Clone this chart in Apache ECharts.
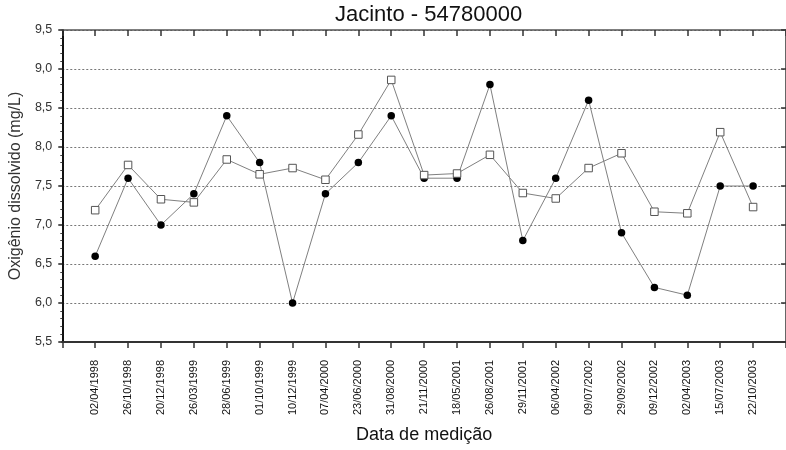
<!DOCTYPE html>
<html>
<head>
<meta charset="utf-8">
<script src="https://cdn.jsdelivr.net/npm/echarts@6/dist/echarts.min.js"></script>
<style>html,body{margin:0;padding:0;background:#fff;}#c{width:786px;height:450px;}</style>
</head>
<body>
<div id="c"></div>
<script>
const dates = ['02/04/1998','26/10/1998','20/12/1998','26/03/1999','28/06/1999','01/10/1999','10/12/1999','07/04/2000','23/06/2000','31/08/2000','21/11/2000','18/05/2001','26/08/2001','29/11/2001','06/04/2002','09/07/2002','29/09/2002','09/12/2002','02/04/2003','15/07/2003','22/10/2003'];
const filledValues = [6.6,7.6,7.0,7.4,8.4,7.8,6.0,7.4,7.8,8.4,7.6,7.6,8.8,6.8,7.6,8.6,6.9,6.2,6.1,7.5,7.5];
const openValues = [7.19,7.77,7.33,7.29,7.84,7.65,7.73,7.58,8.16,8.86,7.64,7.66,7.90,7.41,7.34,7.73,7.92,7.17,7.15,8.19,7.23];
const titleText = 'Jacinto - 54780000';
const xName = 'Data de medição';
const yName = 'Oxigênio dissolvido (mg/L)';

const FONT = "'Liberation Sans', Arial, sans-serif";
const chart = echarts.init(document.getElementById('c'), null, {renderer: 'canvas'});
const pts = arr => arr.map((v, i) => [i, v]);

chart.setOption({
  animation: false,
  backgroundColor: '#fff',
  title: {
    text: titleText, left: 335, top: 4, padding: 0,
    textStyle: {fontFamily: FONT, fontSize: 22, fontWeight: 'normal', color: '#111'}
  },
  grid: {left: 61, right: -3, top: 30, bottom: 108, containLabel: false},
  xAxis: [{
    type: 'value', position: 'bottom', min: -1, max: 21, interval: 1,
    name: xName, nameLocation: 'middle', nameGap: 84,
    nameTextStyle: {fontFamily: FONT, fontSize: 18, color: '#111'},
    axisLine: {show: true, onZero: false, lineStyle: {color: '#333', width: 2}},
    axisTick: {show: true, inside: false, length: 6, lineStyle: {color: '#333', width: 1.5}},
    axisLabel: {
      rotate: 90, margin: 18, fontFamily: FONT, fontSize: 11, color: '#111',
      formatter: v => (Number.isInteger(v) && v >= 0 && v < dates.length) ? dates[v] : ''
    },
    splitLine: {show: false}
  }, {
    type: 'value', position: 'top', min: -1, max: 21, interval: 1,
    axisLine: {show: true, onZero: false, lineStyle: {color: '#555', width: 1.5}},
    axisTick: {show: true, inside: true, length: 6, lineStyle: {color: '#333', width: 1.5}},
    axisLabel: {show: false},
    splitLine: {show: false}
  }],
  yAxis: [{
    type: 'value', position: 'left', min: 5.5, max: 9.5, interval: 0.5,
    name: yName, nameLocation: 'middle', nameGap: 29, nameRotate: 90,
    nameTextStyle: {fontFamily: FONT, fontSize: 16, color: '#333'},
    axisLine: {show: true, onZero: false, lineStyle: {color: '#111', width: 2}},
    axisTick: {show: true, inside: false, length: 4, lineStyle: {color: '#222', width: 1.5}},
    minorTick: {show: true, splitNumber: 5, length: 2, lineStyle: {color: '#444', width: 1}},
    axisLabel: {
      margin: 10, fontFamily: FONT, fontSize: 12.5, color: '#333',
      formatter: v => v.toFixed(1).replace('.', ',')
    },
    splitLine: {show: true, lineStyle: {color: '#777', width: 1, type: [2, 2]}}
  }, {
    type: 'value', position: 'right', min: 5.5, max: 9.5, interval: 0.5,
    axisLine: {show: true, onZero: false, lineStyle: {color: '#333', width: 1.5}},
    axisTick: {show: true, inside: true, length: 5, lineStyle: {color: '#333', width: 1.5}},
    axisLabel: {show: false},
    splitLine: {show: false}
  }],
  series: [{
    name: 'Série 1', type: 'line', xAxisIndex: 0, yAxisIndex: 0,
    data: pts(filledValues),
    symbol: 'circle', symbolSize: 7.5, showAllSymbol: true,
    lineStyle: {color: '#808080', width: 1},
    itemStyle: {color: '#000', borderColor: '#000', borderWidth: 0}
  }, {
    name: 'Série 2', type: 'line', xAxisIndex: 0, yAxisIndex: 0,
    data: pts(openValues),
    symbol: 'rect', symbolSize: 7.5, showAllSymbol: true,
    lineStyle: {color: '#808080', width: 1},
    itemStyle: {color: '#fff', borderColor: '#555', borderWidth: 1}
  }]
});
</script>
</body>
</html>
